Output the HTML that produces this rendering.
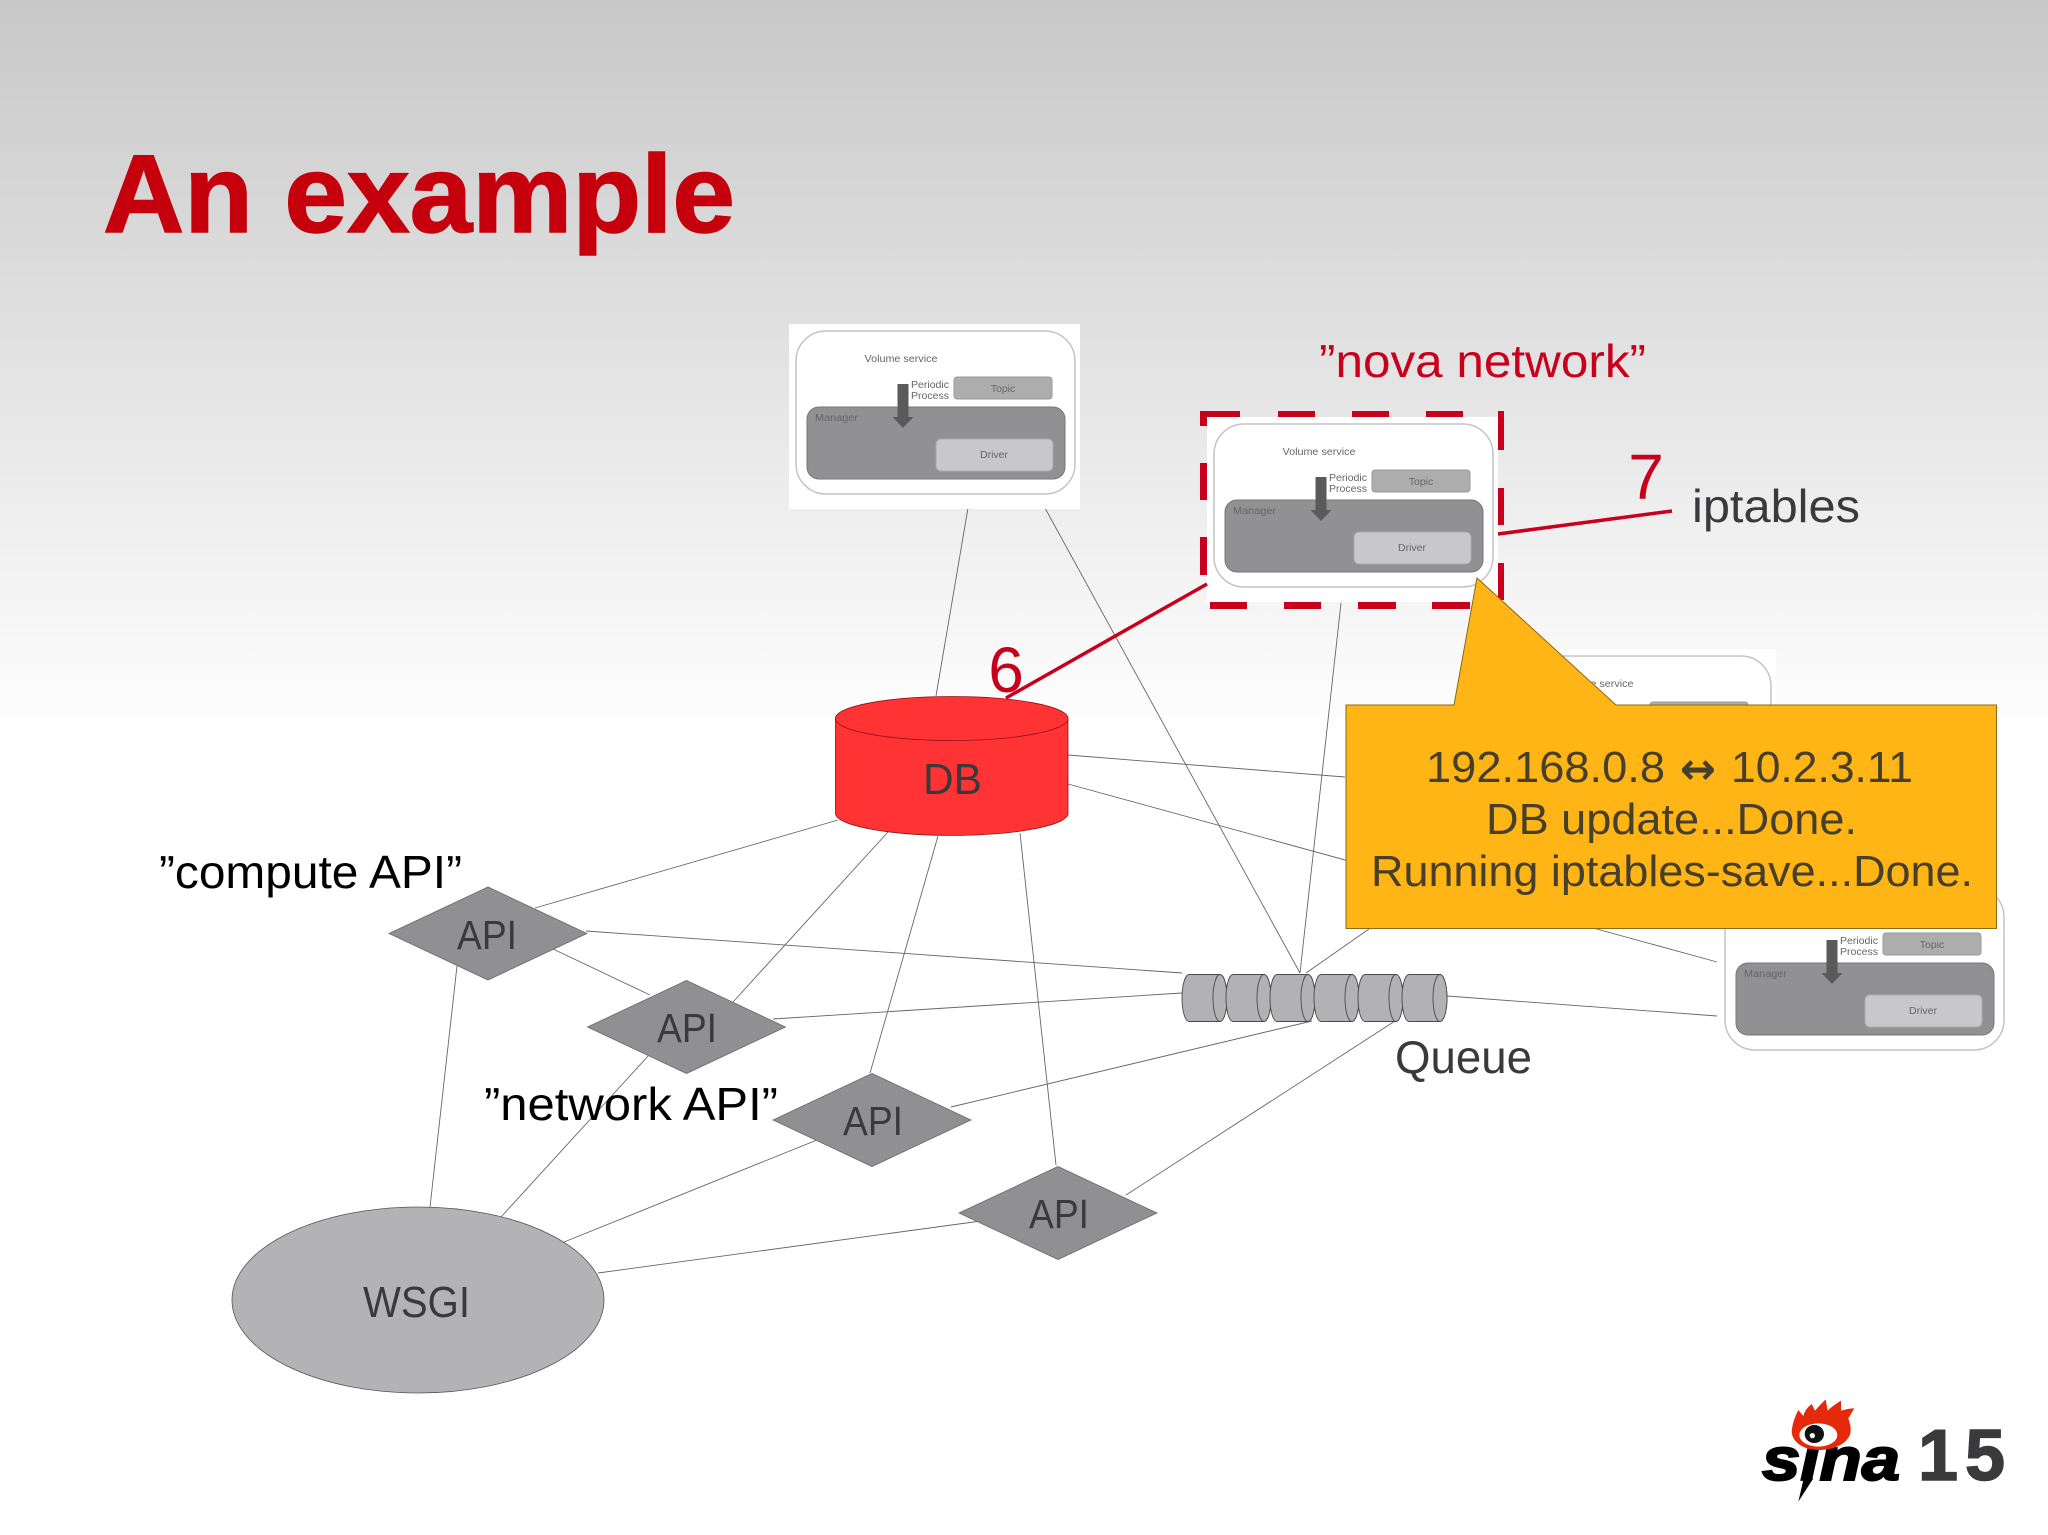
<!DOCTYPE html>
<html><head><meta charset="utf-8"><style>
html,body{margin:0;padding:0;background:#fff}
svg{display:block}
text{font-family:"Liberation Sans",sans-serif}
.l{stroke:#666;stroke-width:.9;fill:none}
.d{fill:#908f91;stroke:#6a6a6a;stroke-width:.8}
.big{font-size:46px;fill:#3a3a3c}
.api{font-size:41px;fill:#3a3a3c;text-anchor:middle}
.co{font-size:44px;fill:#453f2c}
.r{fill:#c8001c}
.s{font-size:10.5px;fill:#666}
</style></head><body>
<svg width="2048" height="1535" viewBox="0 0 2048 1535" xmlns="http://www.w3.org/2000/svg">
<defs><linearGradient id="bg" x1="0" y1="0" x2="0" y2="1"><stop offset="0" stop-color="#c8c8c8"/><stop offset="1" stop-color="#fff"/></linearGradient></defs>
<rect width="2048" height="1535" fill="#fff"/>
<rect width="2048" height="740" fill="url(#bg)"/>
<text x="103" y="232" font-size="110" font-weight="bold" fill="#c5000c" stroke="#c5000c" stroke-width="1.5" textLength="632" lengthAdjust="spacingAndGlyphs">An example</text>

<!-- connectors -->
<g class="l">
<path d="M968 508L936 696M1045 508L1300 973M1341 603L1300 973"/>
<path d="M1068 755L1345 777M1068 784L1717 962M1447 996L1717 1016M1306 973L1369 929"/>
<path d="M535 908L838 820M586 931L1182 973M553 949L650 995M457 966L430 1207"/>
<path d="M733 1002L888 832M773 1019L1182 993M649 1055L501 1217"/>
<path d="M870 1073L938 836M951 1107L1312 1021M817 1140L564 1242"/>
<path d="M1056 1165L1020 833M1126 1195L1395 1021M981 1221L598 1273"/>
</g>

<!-- service 1 -->
<g>
<rect x="789" y="324" width="291" height="185" fill="#fff"/>
<rect x="796" y="331" width="279" height="163" rx="30" fill="#fff" stroke="#c4c4c4" stroke-width="1.5"/>
<rect x="807" y="407" width="258" height="72" rx="12" fill="#919193" stroke="#777"/>
<rect x="954" y="377" width="98" height="22" rx="3" fill="#adadad" stroke="#999"/>
<rect x="936" y="439" width="117" height="32" rx="5" fill="#c8c8ca" stroke="#aaa"/>
<path d="M897.5 384H908.5V417H913.5L903 428L892.5 417H897.5Z" fill="#5a5a5a"/>
<text class="s" x="901" y="362" text-anchor="middle" textLength="73" lengthAdjust="spacingAndGlyphs">Volume service</text>
<text class="s" x="911" y="388" textLength="38" lengthAdjust="spacingAndGlyphs">Periodic</text>
<text class="s" x="911" y="399" textLength="38" lengthAdjust="spacingAndGlyphs">Process</text>
<text class="s" x="1003" y="392" text-anchor="middle">Topic</text>
<text class="s" x="815" y="421" textLength="43" lengthAdjust="spacingAndGlyphs">Manager</text>
<text class="s" x="994" y="458" text-anchor="middle">Driver</text>
</g>
<!-- service 3 (behind callout) -->
<g transform="translate(696 325)">
<rect x="789" y="324" width="291" height="185" fill="#fff"/>
<rect x="796" y="331" width="279" height="163" rx="30" fill="#fff" stroke="#c4c4c4" stroke-width="1.5"/>
<rect x="807" y="407" width="258" height="72" rx="12" fill="#919193" stroke="#777"/>
<rect x="954" y="377" width="98" height="22" rx="3" fill="#adadad" stroke="#999"/>
<text class="s" x="901" y="362" text-anchor="middle" textLength="73" lengthAdjust="spacingAndGlyphs">Volume service</text>
</g>
<!-- service 4 -->
<g transform="translate(929 556)">
<rect x="789" y="324" width="291" height="185" fill="#fff"/>
<rect x="796" y="331" width="279" height="163" rx="30" fill="#fff" stroke="#c4c4c4" stroke-width="1.5"/>
<rect x="807" y="407" width="258" height="72" rx="12" fill="#919193" stroke="#777"/>
<rect x="954" y="377" width="98" height="22" rx="3" fill="#adadad" stroke="#999"/>
<rect x="936" y="439" width="117" height="32" rx="5" fill="#c8c8ca" stroke="#aaa"/>
<path d="M897.5 384H908.5V417H913.5L903 428L892.5 417H897.5Z" fill="#5a5a5a"/>
<text class="s" x="911" y="388" textLength="38" lengthAdjust="spacingAndGlyphs">Periodic</text>
<text class="s" x="911" y="399" textLength="38" lengthAdjust="spacingAndGlyphs">Process</text>
<text class="s" x="1003" y="392" text-anchor="middle">Topic</text>
<text class="s" x="815" y="421" textLength="43" lengthAdjust="spacingAndGlyphs">Manager</text>
<text class="s" x="994" y="458" text-anchor="middle">Driver</text>
</g>
<!-- service 2 -->
<g transform="translate(418 93)">
<rect x="789" y="324" width="291" height="185" fill="#fff"/>
<rect x="796" y="331" width="279" height="163" rx="30" fill="#fff" stroke="#c4c4c4" stroke-width="1.5"/>
<rect x="807" y="407" width="258" height="72" rx="12" fill="#919193" stroke="#777"/>
<rect x="954" y="377" width="98" height="22" rx="3" fill="#adadad" stroke="#999"/>
<rect x="936" y="439" width="117" height="32" rx="5" fill="#c8c8ca" stroke="#aaa"/>
<path d="M897.5 384H908.5V417H913.5L903 428L892.5 417H897.5Z" fill="#5a5a5a"/>
<text class="s" x="901" y="362" text-anchor="middle" textLength="73" lengthAdjust="spacingAndGlyphs">Volume service</text>
<text class="s" x="911" y="388" textLength="38" lengthAdjust="spacingAndGlyphs">Periodic</text>
<text class="s" x="911" y="399" textLength="38" lengthAdjust="spacingAndGlyphs">Process</text>
<text class="s" x="1003" y="392" text-anchor="middle">Topic</text>
<text class="s" x="815" y="421" textLength="43" lengthAdjust="spacingAndGlyphs">Manager</text>
<text class="s" x="994" y="458" text-anchor="middle">Driver</text>
</g>

<!-- red dashed box -->
<g class="r">
<rect x="1200" y="411" width="40" height="6"/><rect x="1278" y="411" width="37" height="6"/><rect x="1352" y="411" width="37" height="6"/><rect x="1426" y="411" width="37" height="6"/>
<rect x="1200" y="411" width="7" height="15"/><rect x="1200" y="463" width="7" height="37"/><rect x="1200" y="537" width="7" height="38"/>
<rect x="1498" y="411" width="6" height="39"/><rect x="1498" y="488" width="6" height="37"/><rect x="1498" y="563" width="6" height="37"/>
<rect x="1210" y="602" width="37" height="7"/><rect x="1284" y="602" width="37" height="7"/><rect x="1358" y="602" width="38" height="7"/><rect x="1432" y="602" width="38" height="7"/>
</g>
<path d="M1006 698L1207 584M1498 534L1672 511" stroke="#c8001c" stroke-width="3.5" fill="none"/>

<!-- DB -->
<path d="M835.5 718.5V814A116.3 22 0 0 0 1068 814V718.5Z" fill="#ff3333" stroke="#8a1515" stroke-width=".8"/>
<ellipse cx="951.7" cy="718.5" rx="116.3" ry="22" fill="#ff3333" stroke="#8a1515" stroke-width=".8"/>
<text x="923" y="794" font-size="44" fill="#3a3a3c" textLength="59" lengthAdjust="spacingAndGlyphs">DB</text>

<!-- Queue -->
<g fill="#b2b1b3" stroke="#4a4a4a" stroke-width=".9">
<path d="M1189 974.5H1220A7 23.5 0 0 1 1220 1021.5H1189A7 23.5 0 0 1 1189 974.5Z"/><ellipse cx="1220" cy="998" rx="7" ry="23.5"/>
<path d="M1233 974.5H1264A7 23.5 0 0 1 1264 1021.5H1233A7 23.5 0 0 1 1233 974.5Z"/><ellipse cx="1264" cy="998" rx="7" ry="23.5"/>
<path d="M1277 974.5H1308A7 23.5 0 0 1 1308 1021.5H1277A7 23.5 0 0 1 1277 974.5Z"/><ellipse cx="1308" cy="998" rx="7" ry="23.5"/>
<path d="M1321 974.5H1352A7 23.5 0 0 1 1352 1021.5H1321A7 23.5 0 0 1 1321 974.5Z"/><ellipse cx="1352" cy="998" rx="7" ry="23.5"/>
<path d="M1365 974.5H1396A7 23.5 0 0 1 1396 1021.5H1365A7 23.5 0 0 1 1365 974.5Z"/><ellipse cx="1396" cy="998" rx="7" ry="23.5"/>
<path d="M1409 974.5H1440A7 23.5 0 0 1 1440 1021.5H1409A7 23.5 0 0 1 1409 974.5Z"/><ellipse cx="1440" cy="998" rx="7" ry="23.5"/>
</g>
<text class="big" x="1395" y="1073" textLength="137" lengthAdjust="spacingAndGlyphs">Queue</text>

<!-- API diamonds -->
<path class="d" d="M389 933.5L488 887L587 933.5L488 980Z"/>
<path class="d" d="M587.5 1027L686.5 980.5L785.5 1027L686.5 1073.5Z"/>
<path class="d" d="M773 1120L872 1073.5L971 1120L872 1166.5Z"/>
<path class="d" d="M959 1213L1058 1166.5L1157 1213L1058 1259.5Z"/>
<text class="api" x="487" y="949" textLength="60" lengthAdjust="spacingAndGlyphs">API</text>
<text class="api" x="687" y="1042" textLength="60" lengthAdjust="spacingAndGlyphs">API</text>
<text class="api" x="873" y="1135" textLength="60" lengthAdjust="spacingAndGlyphs">API</text>
<text class="api" x="1059" y="1228" textLength="60" lengthAdjust="spacingAndGlyphs">API</text>

<!-- WSGI -->
<ellipse cx="418" cy="1300" rx="186" ry="93" fill="#b3b2b4" stroke="#555" stroke-width=".8"/>
<text x="363" y="1317" font-size="44" fill="#3a3a3c" textLength="107" lengthAdjust="spacingAndGlyphs">WSGI</text>

<!-- labels -->
<text x="159" y="888" font-size="46" fill="#000" textLength="303" lengthAdjust="spacingAndGlyphs">”compute API”</text>
<text x="484" y="1120" font-size="46" fill="#000" textLength="294" lengthAdjust="spacingAndGlyphs">”network API”</text>
<text x="1319" y="377" font-size="46" fill="#c8001c" textLength="327" lengthAdjust="spacingAndGlyphs">”nova network”</text>
<text class="big" x="1692" y="522" textLength="168" lengthAdjust="spacingAndGlyphs">iptables</text>
<text x="1006" y="692" font-size="64" fill="#c8001c" text-anchor="middle">6</text>
<text x="1646" y="499" font-size="64" fill="#c8001c" text-anchor="middle">7</text>

<!-- callout -->
<path d="M1346 705H1454L1477 578L1616 705H1996.5V928.5H1346Z" fill="#ffb515" stroke="#8a6a10" stroke-width="1"/>
<text class="co" x="1426" y="782" textLength="239" lengthAdjust="spacingAndGlyphs">192.168.0.8</text>
<text x="1680" y="784" font-size="44" font-weight="bold" fill="#453f2c" style="font-family:'DejaVu Sans',sans-serif" textLength="36" lengthAdjust="spacingAndGlyphs">↔</text>
<text class="co" x="1731" y="782" textLength="182" lengthAdjust="spacingAndGlyphs">10.2.3.11</text>
<text class="co" x="1486" y="834" textLength="371" lengthAdjust="spacingAndGlyphs">DB update...Done.</text>
<text class="co" x="1371" y="886" textLength="602" lengthAdjust="spacingAndGlyphs">Running iptables-save...Done.</text>

<!-- logo -->
<text x="1762" y="1480" font-size="60" font-weight="bold" font-style="italic" fill="#000" stroke="#000" stroke-width="2" textLength="138" lengthAdjust="spacingAndGlyphs">sina</text>
<g transform="translate(1755 1390) scale(.33333)">
<path d="M145 270L130 335L175 265Z" fill="#000"/>
<path d="M110 125C112 100 120 80 130 60L145 78C150 60 160 50 170 42L180 62C190 50 200 40 212 28L218 62C230 50 245 40 258 32L258 62C272 58 285 55 298 55L280 85C285 100 290 115 285 135C270 165 235 180 190 180C150 180 112 160 110 125Z" fill="#e52a0c"/>
<ellipse cx="190" cy="135" rx="57" ry="35" fill="#fff"/>
<ellipse cx="178" cy="132" rx="29" ry="27" fill="#111"/>
<circle cx="172" cy="137" r="8" fill="#fff"/>
</g>
<text x="1918" y="1480" font-size="72" font-weight="bold" fill="#3a3a3c" stroke="#3a3a3c" stroke-width="1.5" textLength="87" lengthAdjust="spacing">15</text>
</svg>
</body></html>
